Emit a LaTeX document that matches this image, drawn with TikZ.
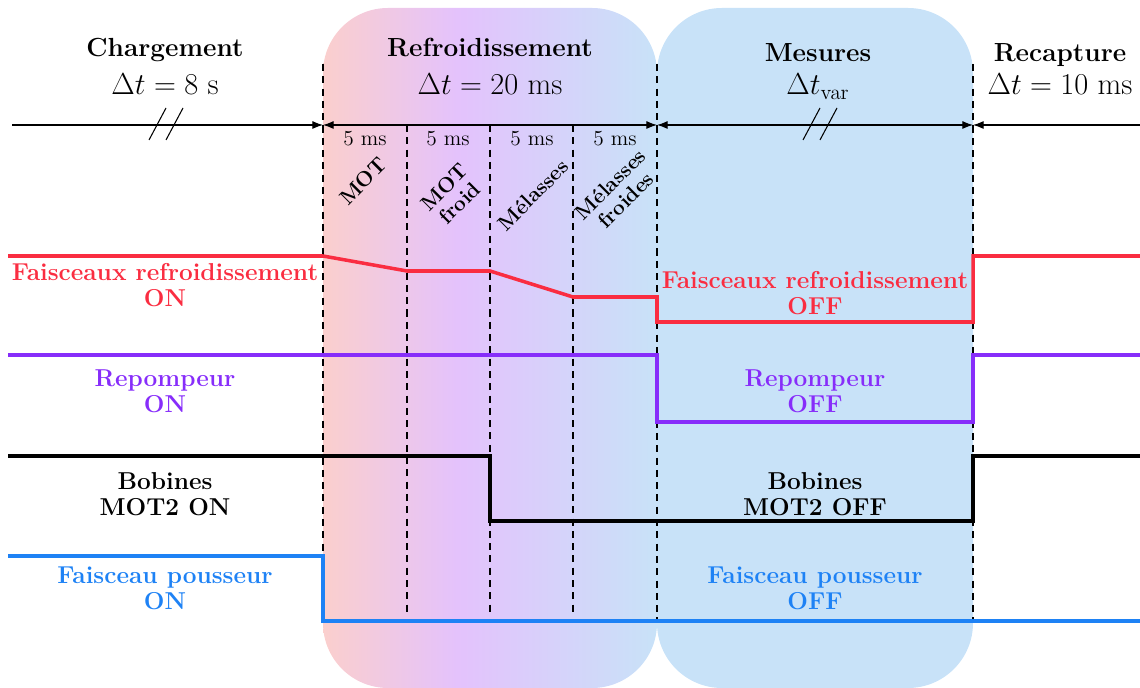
\documentclass[tikz,border=0pt]{standalone}
\usepackage{amsmath,amssymb}
\usepackage{tikz}
\usetikzlibrary{arrows.meta}

\definecolor{roseG}{RGB}{251,207,205}
\definecolor{violetG}{RGB}{228,194,252}
\definecolor{bleuG}{RGB}{200,226,248}
\definecolor{rougeF}{RGB}{250,45,65}
\definecolor{violetF}{RGB}{135,45,250}
\definecolor{bleuF}{RGB}{30,130,245}
\pgfdeclarehorizontalshading{refroid}{100bp}{color(0bp)=(roseG); color(25bp)=(roseG);
  color(45bp)=(violetG); color(75bp)=(bleuG); color(100bp)=(bleuG)}

\begin{document}
\begin{tikzpicture}[x=0.02cm,y=-0.02cm,
    every node/.style={inner sep=0pt},
    titre/.style={font=\fontsize{14.9}{17}\selectfont\bfseries,anchor=base},
    duree/.style={font=\fontsize{17.5}{20}\selectfont,anchor=base},
    etiq/.style={font=\fontsize{13.9}{15.3}\selectfont\bfseries,align=center,anchor=base},
    phase/.style={font=\fontsize{12}{12.5}\selectfont\bfseries,align=center,rotate=45},
    petit/.style={font=\fontsize{12.2}{13}\selectfont},
    trait/.style={dash pattern=on 4pt off 3pt,thick},
    fleche/.style={semithick,>={Latex[length=6pt,width=4.5pt]}},
    signal/.style={line width=2pt}]
    \useasboundingbox (0,0) rectangle (1140,688);

    % fonds
    \shade[shading=refroid,rounded corners=1.3cm] (323,8) rectangle (657,688);
    \fill[bleuG,rounded corners=1.3cm] (657,8) rectangle (973,688);

    % reperes de temps
    \foreach \x in {323,657,973} \draw[trait] (\x,64) -- (\x,621);
    \foreach \x in {407,490,573} \draw[trait] (\x,125) -- (\x,615);

    \coordinate (a0) at (12,125);
    \coordinate (a1) at (323,125);
    \coordinate (a2) at (657,125);
    \coordinate (a3) at (973,125);
    \coordinate (a4) at (1140,125);
    \draw[fleche,->] (a0) -- (a1);
    \draw[fleche,<->] (a1) -- (a2);
    \draw[fleche,<->] (a2) -- (a3);
    \draw[fleche,<-] (a3) -- (a4);
    \foreach \xs in {149,166,803,820} \draw[semithick] (\xs,140) -- ++(17,-32);

    % phases
    \node[titre] (hdCharg) at (165,57) {Chargement};
    \node[duree] (dtCharg) at (165,95) {$\Delta t = 8$ s};
    \node[titre] (hdRefr) at (490,57) {Refroidissement};
    \node[duree] (dtRefr) at (490,95) {$\Delta t = 20$ ms};
    \node[titre] (hdMes) at (818,62) {Mesures};
    \node[duree] (dtMes) at (818,95) {$\Delta t_{\mathrm{var}}$};
    \node[titre] (hdRecap) at (1060,62) {Recapture};
    \node[duree] (dtRecap) at (1060,95) {$\Delta t = 10$ ms};

    \foreach \x [count=\i] in {365,448,532,615}
      \node[petit] (ms\i) at (\x,139) {5 ms};
    \node[phase] (pMot) at (363,181) {MOT};
    \node[phase] (pMotF) at (452,195) {MOT\\froid};
    \node[phase] (pMel) at (533,195) {Mélasses};
    \node[phase] (pMelF) at (618,192) {Mélasses\\froides};

    % signaux
    \draw[signal,rougeF] (8,256) -- (323,256) -- (407,271) -- (490,271) -- (573,297) -- (657,297)
      -- (657,322) -- (973,322) -- (973,256) -- (1140,256);
    \draw[signal,violetF] (8,355) -- (657,355) -- (657,422) -- (973,422) -- (973,355) -- (1140,355);
    \draw[signal,black] (8,456) -- (490,456) -- (490,521) -- (973,521) -- (973,456) -- (1140,456);
    \draw[signal,bleuF] (8,556) -- (323,556) -- (323,621) -- (1140,621);

    % etiquettes
    \node[etiq,rougeF] (refrOn) at (165,307) {Faisceaux refroidissement\\ON};
    \node[etiq,rougeF] (refrOff) at (815,315) {Faisceaux refroidissement\\OFF};
    \node[etiq,violetF] (repOn) at (165,413) {Repompeur\\ON};
    \node[etiq,violetF] (repOff) at (815,413) {Repompeur\\OFF};
    \node[etiq] (bobOn) at (165,516) {Bobines\\MOT2 ON};
    \node[etiq] (bobOff) at (815,516) {Bobines\\MOT2 OFF};
    \node[etiq,bleuF] (pousOn) at (165,610) {Faisceau pousseur\\ON};
    \node[etiq,bleuF] (pousOff) at (815,610) {Faisceau pousseur\\OFF};
\end{tikzpicture}
\end{document}
